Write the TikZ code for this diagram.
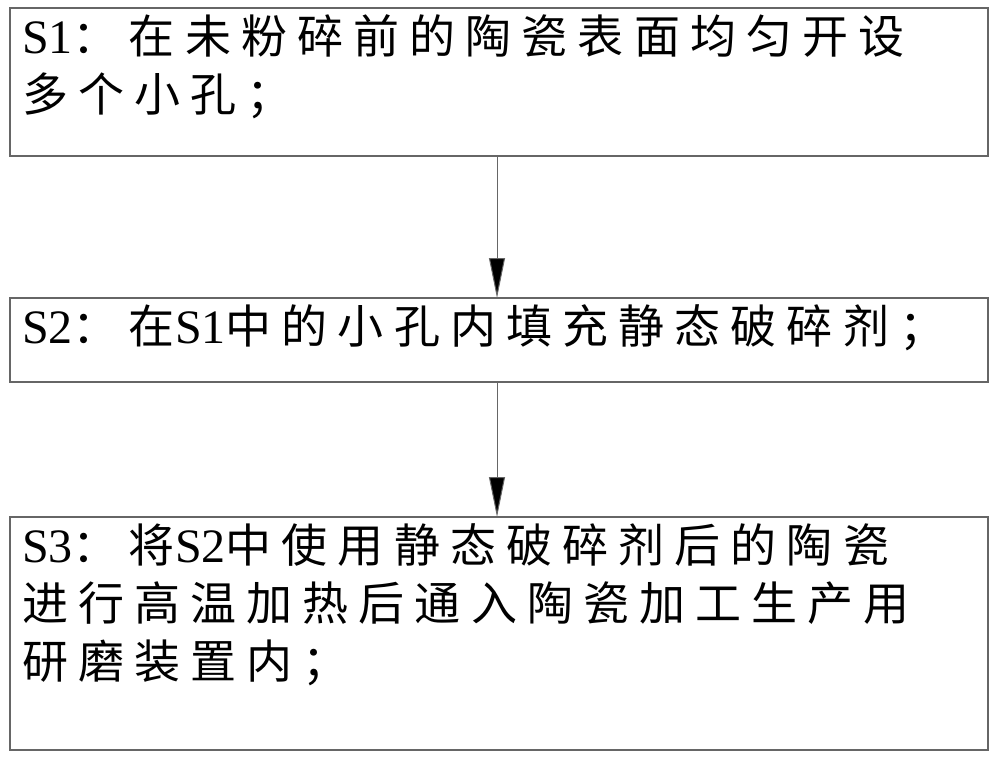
\documentclass[tikz,border=0pt]{standalone}
\usepackage{fontspec}
\setmainfont{Liberation Serif}
\newfontfamily\cjk[LetterSpace=22]{Noto Sans CJK SC}
\newcommand{\lat}[1]{{\rmfamily\fontsize{48}{58}\selectfont #1}}
\usetikzlibrary{arrows.meta}
\begin{document}
\begin{tikzpicture}[x=1pt,y=-1pt,
  stepbox/.style={draw=black!60,line width=1.2pt,anchor=north west,inner sep=0pt},
  txt/.style={anchor=north west,align=left,font=\cjk\fontsize{46}{58}\selectfont,inner sep=0pt},
  arr/.style={draw=black!60,line width=1pt,-{Triangle[length=40pt,width=16pt,fill=black]}}]
\useasboundingbox (0,0) rectangle (1000,757);
\draw[stepbox] (10,8) rectangle (988,156);
\draw[stepbox] (10,298) rectangle (988,382);
\draw[stepbox] (10,517) rectangle (988,750);
\coordinate (b1) at (497,156); \coordinate (t2) at (497,298);
\coordinate (b2) at (497,382); \coordinate (t3) at (497,517);
\node[txt] (s1) at (22,14) {\lat{S1}：在未粉碎前的陶瓷表面均匀开设\\多个小孔；};
\node[txt] (s2) at (22,304) {\lat{S2}：在\lat{S1}中的小孔内填充静态破碎剂；};
\node[txt] (s3) at (22,523) {\lat{S3}：将\lat{S2}中使用静态破碎剂后的陶瓷\\进行高温加热后通入陶瓷加工生产用\\研磨装置内；};
\draw[arr] (b1) -- (t2);
\draw[arr] (b2) -- (t3);
\end{tikzpicture}
\end{document}
